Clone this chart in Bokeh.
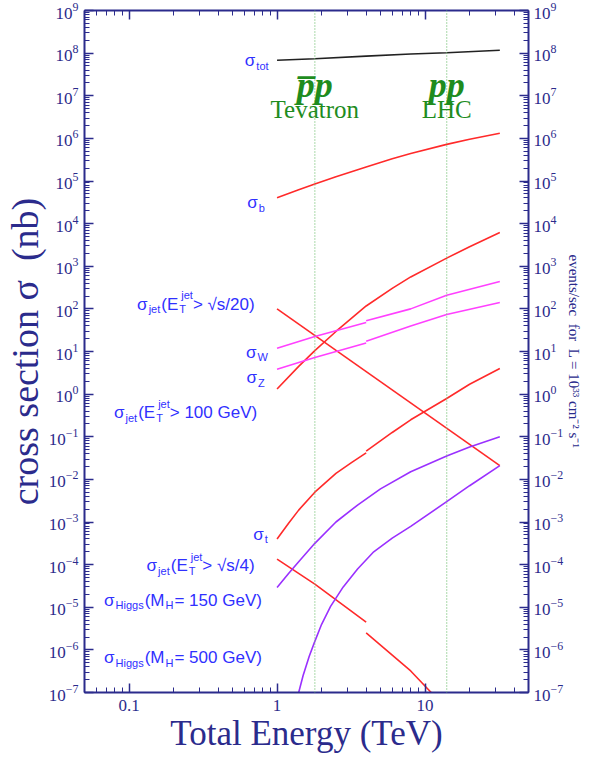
from bokeh.plotting import figure
from bokeh.models import (Range1d, LogAxis, FixedTicker, CustomJSTickFormatter,
                          Label, Span)
from bokeh.embed import file_html
from bokeh.resources import INLINE

# ---------------- data (cross sections in nb vs sqrt(s) in TeV) ----------------
E_tot = [1.0, 1.8, 4.0, 8.0, 14.0, 32.0]
sig_tot = [6.8e7, 7.4e7, 8.5e7, 9.5e7, 1.02e8, 1.17e8]

E_smooth = [1.0, 1.4, 1.8, 2.5, 4.0, 6.0, 8.0, 14.0, 20.0, 32.0]
sig_b = [4.07e4, 6.2e4, 8.51e4, 1.26e5, 2.14e5, 3.31e5, 4.42e5, 7.24e5, 9.55e5, 1.32e6]
sig_jet_100 = [1.32, 4.47, 10.5, 29.5, 117.0, 302.0, 562.0, 1550.0, 2880.0, 6170.0]

E_h150 = [1.0, 1.2, 1.4, 1.8, 2.5, 3.5, 5.0, 8.0, 14.0, 20.0, 32.0]
sig_h150 = [2.9e-5, 6.3e-5, 1.17e-4, 3.16e-4, 1.0e-3, 2.5e-3, 6.0e-3, 1.51e-2,
            3.55e-2, 5.75e-2, 0.1]

E_jet_s20 = [1.0, 32.0]
sig_jet_s20 = [100.0, 0.021]

E_ppbar = [1.0, 1.8, 4.0]
E_pp = [4.0, 8.0, 14.0, 32.0]
sig_W_ppbar = [11.9, 22.4, 47.9]
sig_W_pp = [52.5, 100.0, 209.0, 437.0]
sig_Z_ppbar = [3.85, 7.24, 15.8]
sig_Z_pp = [17.4, 39.8, 74.0, 141.0]

E_t_ppbar = [1.0, 1.2, 1.4, 1.8, 2.5, 3.2, 4.0]
sig_t_ppbar = [4.0e-4, 9.5e-4, 1.9e-3, 5.0e-3, 1.38e-2, 2.5e-2, 4.2e-2]
E_t_pp = [4.0, 6.0, 8.0, 14.0, 20.0, 32.0]
sig_t_pp = [4.6e-2, 0.126, 0.25, 0.79, 1.7, 4.0]

sig_jet_s4_ppbar = [1.35e-4, 3.5e-5, 4.5e-6]
E_jet_s4_pp = [4.0, 8.0, 11.0]
sig_jet_s4_pp = [2.5e-6, 3.2e-7, 1.0e-7]

E_h500 = [1.4, 1.5, 1.65, 1.8, 2.0, 2.3, 2.8, 3.5, 4.5, 6.0, 8.0, 14.0, 20.0, 32.0]
sig_h500 = [1.0e-7, 2.5e-7, 7.1e-7, 1.58e-6, 3.98e-6, 1.05e-5, 3.0e-5, 7.9e-5,
            2.0e-4, 4.2e-4, 7.9e-4, 3.0e-3, 7.1e-3, 2.1e-2]

tevatron_E = 1.8
lhc_E = 14.0
y_decades = list(range(-7, 10))
x_tick_values = [0.1, 1, 10]

NAVY = "#2b2b8c"
BLUE = "#3030ff"
RED = "#ff2a2a"
MAGENTA = "#ff40ff"
PURPLE = "#9a30ff"
GREEN = "#1e8c1e"

p = figure(width=585, height=755, x_axis_type="log", y_axis_type="log",
           x_range=Range1d(0.05, 50), y_range=Range1d(1e-7, 1e9),
           output_backend="svg", toolbar_location=None,
           min_border_left=79, min_border_right=50, min_border_top=10,
           min_border_bottom=60)
p.outline_line_color = None
p.xgrid.grid_line_color = None
p.ygrid.grid_line_color = None
p.background_fill_color = "white"

major_y = [10.0 ** d for d in y_decades]
minor_y = [m * 10.0 ** d for d in y_decades[:-1] for m in range(1, 10)]
major_x = list(x_tick_values)
minor_x = [m * 10.0 ** d for d in range(-2, 2) for m in range(1, 10)]


def style_axis(ax):
    ax.axis_line_color = NAVY
    ax.axis_line_width = 2
    ax.major_tick_line_color = NAVY
    ax.minor_tick_line_color = NAVY
    ax.major_tick_line_width = 1.5
    ax.minor_tick_line_width = 1
    ax.major_tick_in = 9
    ax.major_tick_out = 0
    ax.minor_tick_in = 5
    ax.minor_tick_out = 0
    ax.major_label_text_color = NAVY
    ax.major_label_text_font = "Liberation Serif"
    ax.major_label_text_font_size = "17px"
    ax.axis_label_text_font = "Liberation Serif"
    ax.axis_label_text_font_style = "normal"
    ax.axis_label_text_color = NAVY


# left axis
yl = p.yaxis[0]
yl.ticker = FixedTicker(ticks=major_y, minor_ticks=minor_y)
style_axis(yl)
yl.axis_label = "cross section σ \u00a0(nb)"
yl.axis_label_text_font_size = "38px"
yl.major_label_standoff = 6
yl.axis_label_standoff = 0

# bottom axis
xb = p.xaxis[0]
xb.ticker = FixedTicker(ticks=major_x, minor_ticks=minor_x)
xb.formatter = CustomJSTickFormatter(code="return tick.toString();")
style_axis(xb)
xb.axis_label = "Total Energy (TeV)"
xb.axis_label_text_font_size = "35px"
xb.major_label_standoff = 7
xb.axis_label_standoff = 0

# right axis
yr = LogAxis(ticker=FixedTicker(ticks=major_y, minor_ticks=minor_y))
style_axis(yr)
yr.axis_label = "events/sec \u00a0for \u00a0L = 10³³ cm⁻² s⁻¹"
yr.axis_label_text_font_size = "15px"
yr.major_label_standoff = 5
yr.axis_label_standoff = 0
p.add_layout(yr, "right")

# top axis (ticks only)
xt = LogAxis(ticker=FixedTicker(ticks=major_x, minor_ticks=minor_x),
             formatter=CustomJSTickFormatter(code="return '';"))
style_axis(xt)
xt.major_label_text_font_size = "1px"
xt.major_label_standoff = 0
p.add_layout(xt, "above")

# collider lines
for e in (tevatron_E, lhc_E):
    p.add_layout(Span(location=e, dimension="height", line_color="#7cc47c",
                      line_dash="1 2", line_width=1.3))

# curves
lw = 1.6
p.line(E_tot, sig_tot, line_color="#222222", line_width=lw)
p.line(E_smooth, sig_b, line_color=RED, line_width=lw)
p.line(E_smooth, sig_jet_100, line_color=RED, line_width=lw)
p.line(E_jet_s20, sig_jet_s20, line_color=RED, line_width=lw)
p.line(E_ppbar, sig_W_ppbar, line_color=MAGENTA, line_width=lw)
p.line(E_pp, sig_W_pp, line_color=MAGENTA, line_width=lw)
p.line(E_ppbar, sig_Z_ppbar, line_color=MAGENTA, line_width=lw)
p.line(E_pp, sig_Z_pp, line_color=MAGENTA, line_width=lw)
p.line(E_t_ppbar, sig_t_ppbar, line_color=RED, line_width=lw)
p.line(E_t_pp, sig_t_pp, line_color=RED, line_width=lw)
p.line(E_ppbar, sig_jet_s4_ppbar, line_color=RED, line_width=lw)
p.line(E_jet_s4_pp, sig_jet_s4_pp, line_color=RED, line_width=lw)
p.line(E_h150, sig_h150, line_color=PURPLE, line_width=lw)
p.line(E_h500, sig_h500, line_color=PURPLE, line_width=lw)

# ---------------- curve labels (sub/superscripts built from pieces) ----------------
W = {' ': 0.278, '(': 0.333, ')': 0.333, '>': 0.584, '=': 0.584, '/': 0.278,
     'E': 0.667, 'T': 0.611, 'M': 0.833, 'H': 0.722, 'G': 0.778, 'V': 0.667,
     'W': 0.944, 'Z': 0.611, 'e': 0.556, 's': 0.5, 'j': 0.222, 't': 0.278,
     'i': 0.222, 'g': 0.556, 'o': 0.556, 'b': 0.556, 'σ': 0.62, '√': 0.55}


def tw(txt, size):
    return sum(W.get(c, 0.556) for c in txt) * size


MAIN, SMALL = 17, 11


def curve_label(x_right, y, pieces):
    widths = []
    for pc in pieces:
        if pc[1] == "n":
            widths.append(tw(pc[0], MAIN))
        elif pc[1] == "sub":
            widths.append(tw(pc[0], SMALL) + 2)
        else:
            widths.append(max(tw(pc[0], SMALL), tw(pc[2], SMALL) + 2) + 1)
    off = -sum(widths)
    for pc, w in zip(pieces, widths):
        common = dict(x=x_right, y=y, text_color=BLUE, text_font="Liberation Sans",
                      text_baseline="middle", text_align="left")
        if pc[1] == "n":
            p.add_layout(Label(text=pc[0], x_offset=off, y_offset=0,
                               text_font_size=f"{MAIN}px", **common))
        elif pc[1] == "sub":
            p.add_layout(Label(text=pc[0], x_offset=off + 1, y_offset=-5,
                               text_font_size=f"{SMALL}px", **common))
        else:
            p.add_layout(Label(text=pc[0], x_offset=off + 1, y_offset=-5,
                               text_font_size=f"{SMALL}px", **common))
            p.add_layout(Label(text=pc[2], x_offset=off + 3, y_offset=9,
                               text_font_size=f"{SMALL}px", **common))
        off += w


curve_label(0.89, 6.7e7, [("σ", "n"), ("tot", "sub")])
curve_label(0.84, 3.1e4, [("σ", "n"), ("b", "sub")])
curve_label(0.76, 127, [("σ", "n"), ("jet", "sub"), ("(E", "n"),
                        ("T", "subsup", "jet"), (" > √s/20)", "n")])
curve_label(0.88, 9.5, [("σ", "n"), ("W", "sub")])
curve_label(0.84, 2.45, [("σ", "n"), ("Z", "sub")])
curve_label(0.79, 0.37, [("σ", "n"), ("jet", "sub"), ("(E", "n"),
                         ("T", "subsup", "jet"), (" > 100 GeV)", "n")])
curve_label(0.88, 5.1e-4, [("σ", "n"), ("t", "sub")])
curve_label(0.76, 9.5e-5, [("σ", "n"), ("jet", "sub"), ("(E", "n"),
                           ("T", "subsup", "jet"), (" > √s/4)", "n")])
curve_label(0.85, 1.45e-5, [("σ", "n"), ("Higgs", "sub"), ("(M", "n"),
                            ("H", "sub"), (" = 150 GeV)", "n")])
curve_label(0.85, 6.6e-7, [("σ", "n"), ("Higgs", "sub"), ("(M", "n"),
                           ("H", "sub"), (" = 500 GeV)", "n")])

# collider annotations
for e, top, name in ((tevatron_E, "p\u0305p", "Tevatron"), (lhc_E, "pp", "LHC")):
    p.add_layout(Label(x=e, y=1.74e7, text=top, text_align="center", text_baseline="middle",
                       text_font="Liberation Serif", text_font_style="bold italic",
                       text_font_size="36px", text_color=GREEN))
    p.add_layout(Label(x=e, y=4.75e6, text=name, text_align="center", text_baseline="middle",
                       text_font="Liberation Serif", text_font_size="25px", text_color=GREEN))

open("out.html", "w").write(file_html(p, INLINE))
